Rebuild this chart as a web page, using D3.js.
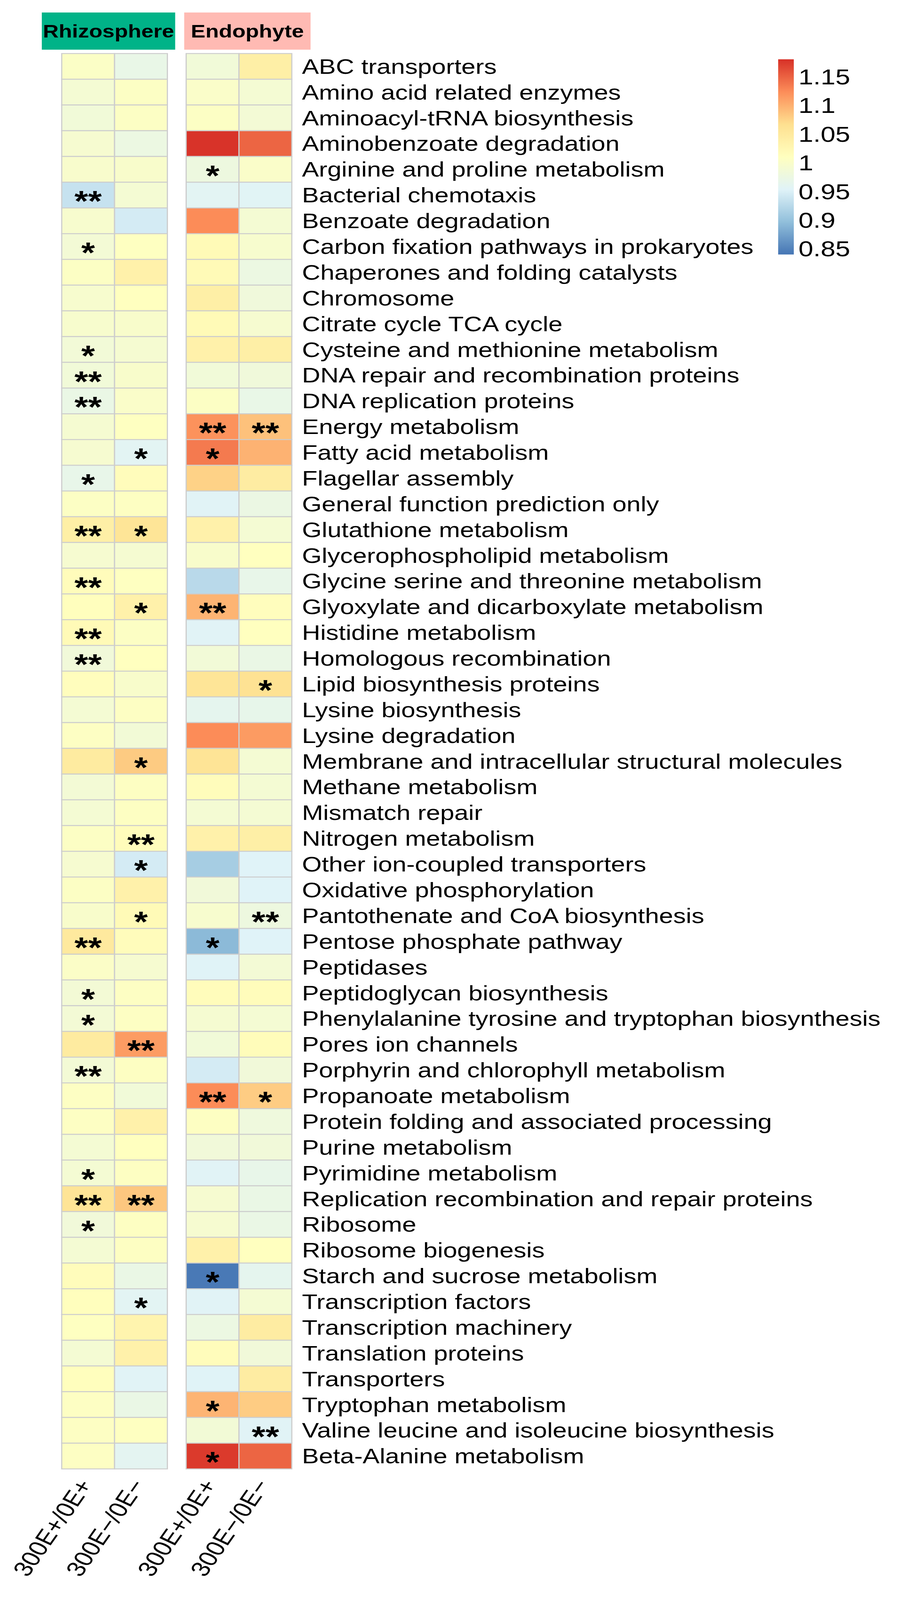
<!DOCTYPE html>
<html>
<head>
<meta charset="utf-8">
<script src="https://cdn.jsdelivr.net/npm/d3@7"></script>
<style>
body{margin:0;background:#fff;overflow:hidden}
text{font-family:"Liberation Sans",Arial,sans-serif}
</style>
</head>
<body>
<div id="main"></div>
<script>
// ---------------- data ----------------
var pathways=["ABC transporters","Amino acid related enzymes","Aminoacyl-tRNA biosynthesis","Aminobenzoate degradation",
"Arginine and proline metabolism","Bacterial chemotaxis","Benzoate degradation","Carbon fixation pathways in prokaryotes",
"Chaperones and folding catalysts","Chromosome","Citrate cycle TCA cycle","Cysteine and methionine metabolism",
"DNA repair and recombination proteins","DNA replication proteins","Energy metabolism","Fatty acid metabolism",
"Flagellar assembly","General function prediction only","Glutathione metabolism","Glycerophospholipid metabolism",
"Glycine serine and threonine metabolism","Glyoxylate and dicarboxylate metabolism","Histidine metabolism",
"Homologous recombination","Lipid biosynthesis proteins","Lysine biosynthesis","Lysine degradation",
"Membrane and intracellular structural molecules","Methane metabolism","Mismatch repair","Nitrogen metabolism",
"Other ion-coupled transporters","Oxidative phosphorylation","Pantothenate and CoA biosynthesis",
"Pentose phosphate pathway","Peptidases","Peptidoglycan biosynthesis","Phenylalanine tyrosine and tryptophan biosynthesis",
"Pores ion channels","Porphyrin and chlorophyll metabolism","Propanoate metabolism","Protein folding and associated processing",
"Purine metabolism","Pyrimidine metabolism","Replication recombination and repair proteins","Ribosome",
"Ribosome biogenesis","Starch and sucrose metabolism","Transcription factors","Transcription machinery",
"Translation proteins","Transporters","Tryptophan metabolism","Valine leucine and isoleucine biosynthesis",
"Beta-Alanine metabolism"];

var groups=["Rhizosphere","Endophyte"];
var comparisons=["300E+/0E+","300E\u2212/0E\u2212"];

// fold change ratios, one per pathway
var rhizoPos=[1.003,0.99,0.985,0.993,0.997, 0.935,0.995,0.988,1.005,0.995,
0.996,0.986,0.985,0.972,0.992, 0.993,0.968,1.005,1.04,0.993,
1.015,1.012,1.02,0.984,1.013, 0.99,1.006,1.047,0.988,0.99,
1.005,0.993,1.005,0.998,1.05, 1.002,0.988,0.988,1.047,0.988,
1.006,1.006,0.99,0.99,1.06, 0.984,0.99,1.015,1.012,1.008,
0.99,1.012,1.006,1.006,1.006];
var rhizoNeg=[0.97,1.005,1.005,0.975,0.998, 0.99,0.945,1.008,1.035,1.01,
0.998,0.992,0.998,1.0,1.008, 0.958,1.015,1.007,1.058,0.992,
1.008,1.035,1.005,1.01,0.998, 1.006,0.987,1.081,1.007,1.007,
1.015,0.945,1.035,1.02,1.015, 0.993,1.006,1.006,1.113,1.007,
0.985,1.035,1.01,1.007,1.084, 1.007,1.007,0.972,0.958,1.03,
1.035,0.955,0.972,1.008,0.96];
var endoPos=[0.985,1.0,1.005,1.178,0.978, 0.958,1.124,1.02,1.02,1.04,
1.02,1.035,0.985,1.005,1.12, 1.135,1.076,0.955,1.035,0.998,
0.925,1.097,0.955,0.986,1.058, 0.963,1.124,1.06,1.015,0.99,
1.035,0.912,0.984,0.995,0.893, 0.954,1.015,0.992,0.985,0.945,
1.124,1.007,0.984,0.955,0.993, 0.993,1.035,0.843,0.955,0.975,
1.015,0.954,1.097,0.987,1.174];
var endoNeg=[1.04,0.99,0.988,1.148,1.0, 0.956,0.99,0.995,0.975,0.982,
0.993,1.04,0.983,0.97,1.088, 1.098,1.045,0.974,0.99,1.01,
0.968,1.013,1.01,0.972,1.063, 0.967,1.114,0.99,0.99,0.99,
1.04,0.953,0.953,0.978,0.953, 0.988,1.015,0.99,1.016,0.984,
1.08,0.98,0.984,0.968,0.972, 0.972,1.01,0.963,0.99,1.045,
0.984,1.045,1.08,0.955,1.148];

// significance marks
var rhizoPosSig=['','','','','', '**','','*','','', '','*','**','**','', '','*','','**','',
'**','','**','**','', '','','','','', '','','','','**', '','*','*','','**',
'','','','*','**', '*','','','','', '','','','',''];
var rhizoNegSig=['','','','','', '','','','','', '','','','','', '*','','','*','',
'','*','','','', '','','*','','', '**','*','','*','', '','','','**','',
'','','','','**', '','','','*','', '','','','',''];
var endoPosSig=['','','','','*', '','','','','', '','','','','**', '*','','','','',
'','**','','','', '','','','','', '','','','','*', '','','','','',
'**','','','','', '','','*','','', '','','*','','*'];
var endoNegSig=['','','','','', '','','','','', '','','','','**', '','','','','',
'','','','','*', '','','','','', '','','','**','', '','','','','',
'*','','','','', '','','','','', '','','','**',''];

var legendTicks=[1.15,1.1,1.05,1,0.95,0.9,0.85];
var legendLabels=["1.15","1.1","1.05","1","0.95","0.9","0.85"];
var vmin=0.84, vmax=1.18;

// ---------------- drawing ----------------
var W=2309, H=4992;
var palette=['#4575b4','#91bfdb','#e0f3f8','#ffffbf','#fee090','#fc8d59','#d73027'];
var headerFill={Rhizosphere:'#00b388',Endophyte:'#ffbab3'};
var headerPad={Rhizosphere:[51,20],Endophyte:[5,48]};

var series={Rhizosphere:[rhizoPos,rhizoNeg],Endophyte:[endoPos,endoNeg]};
var sigs={Rhizosphere:[rhizoPosSig,rhizoNegSig],Endophyte:[endoPosSig,endoNegSig]};

var cells=[];
groups.forEach(function(g){
  comparisons.forEach(function(c,ci){
    pathways.forEach(function(p,i){
      cells.push({group:g,comp:c,path:p,value:series[g][ci][i],sig:sigs[g][ci][i]});
    });
  });
});

// the window is not always as tall as the figure, so fit it to the window
var vw=window.innerWidth||W, vh=Math.min(window.innerHeight||H,H);
var svg=d3.select('#main').append('svg')
    .attr('width',vw).attr('height',vh)
    .attr('viewBox','0 0 '+W+' '+H)
    .attr('preserveAspectRatio','none');
svg.append('rect').attr('width',W).attr('height',H).attr('fill','#fff');

var y=d3.scaleBand().domain(pathways).range([167,4583]);
var gx=d3.scaleBand().domain(groups).range([158,747]).paddingInner(0.151);
var cx=d3.scaleBand().domain(comparisons).range([0,gx.bandwidth()]);
var color=d3.scaleLinear()
    .domain(d3.range(7).map(function(i){return vmin+i*(vmax-vmin)/6;}))
    .range(palette)
    .interpolate(d3.interpolateRgb);

// headers
groups.forEach(function(g){
  var x0=gx(g)-headerPad[g][0], x1=gx(g)+gx.bandwidth()+headerPad[g][1];
  svg.append('rect')
    .attr('x',x0).attr('y',39).attr('width',x1-x0).attr('height',116)
    .attr('fill',headerFill[g]);
  svg.append('text')
    .attr('x',(x0+x1)/2).attr('y',117)
    .attr('text-anchor','middle')
    .attr('font-size',56).attr('font-weight','bold')
    .text(g);
});

// cells
var map=svg.append('g').attr('class','map');
map.selectAll('rect')
    .data(cells)
  .enter().append('rect')
    .attr('x',function(d){return gx(d.group)+cx(d.comp);})
    .attr('y',function(d){return y(d.path);})
    .attr('width',cx.bandwidth())
    .attr('height',y.bandwidth())
    .attr('fill',function(d){return color(d.value);})
    .attr('stroke','#cdcdcd')
    .attr('stroke-width',3);

map.selectAll('text')
    .data(cells.filter(function(d){return d.sig;}))
  .enter().append('text')
    .attr('x',function(d){return gx(d.group)+cx(d.comp)+cx.bandwidth()/2;})
    .attr('y',function(d){return y(d.path)+y.bandwidth()/2+50;})
    .attr('text-anchor','middle')
    .attr('font-size',90).attr('font-weight','bold')
    .text(function(d){return d.sig;});

// row labels
svg.append('g').selectAll('text')
    .data(pathways)
  .enter().append('text')
    .attr('x',773)
    .attr('y',function(d){return y(d)+y.bandwidth()/2+23;})
    .attr('font-size',65)
    .text(function(d){return d;});

// column labels
var bottom=y.range()[1];
groups.forEach(function(g){
  comparisons.forEach(function(c){
    var x0=gx(g)+cx(c)+cx.bandwidth()/2+13, y0=bottom+50;
    svg.append('text')
      .attr('x',x0).attr('y',y0)
      .attr('text-anchor','end')
      .attr('font-size',67)
      .attr('transform','rotate(-60,'+x0+','+y0+')')
      .text(c);
  });
});

// colour legend
var ly=d3.scaleLinear().domain([vmin,vmax]).range([794,185]);
var grad=svg.append('defs').append('linearGradient')
    .attr('id','grad').attr('x1',0).attr('y1',1).attr('x2',0).attr('y2',0);
palette.forEach(function(col,i){
  grad.append('stop').attr('offset',(i/6*100)+'%').attr('stop-color',col);
});
svg.append('rect')
    .attr('x',1992).attr('y',ly(vmax))
    .attr('width',40).attr('height',ly(vmin)-ly(vmax))
    .attr('fill','url(#grad)');
svg.append('g').selectAll('text')
    .data(legendTicks)
  .enter().append('text')
    .attr('x',2044)
    .attr('y',function(d){return ly(d)+24;})
    .attr('font-size',68)
    .text(function(d,i){return legendLabels[i];});
</script>
</body>
</html>
